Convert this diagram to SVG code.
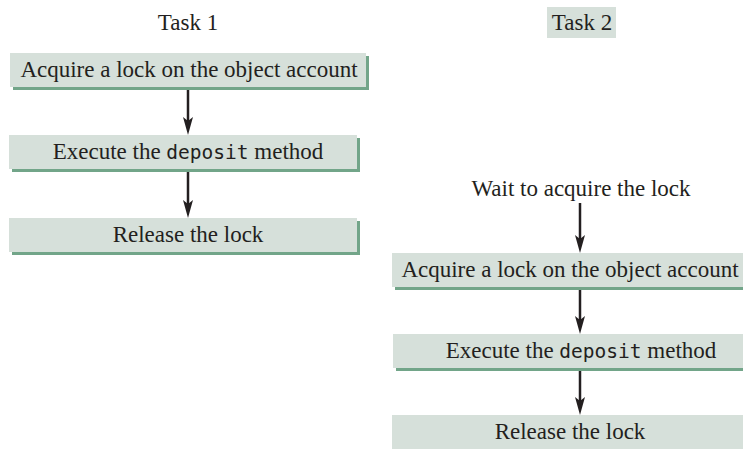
<svg xmlns="http://www.w3.org/2000/svg" width="743" height="449" viewBox="0 0 743 449">
<style>
.box{fill:#d6e0da}
.sh{fill:#72a589}
.t{font-family:"Liberation Serif","Times New Roman",serif;font-size:23px;fill:#231f20;text-anchor:middle}
.m{font-family:"DejaVu Sans Mono","Liberation Mono",monospace;font-size:19.5px}
.c{stroke:#231f20;stroke-width:2.5;fill:none;marker-end:url(#ah)}
</style>
<defs>
<marker id="ah" markerUnits="userSpaceOnUse" viewBox="0 0 18 10" refX="4" refY="5" markerWidth="18" markerHeight="10" orient="auto">
<path d="M0,0 L18,5 L0,10 L4,5 z" fill="#231f20"/>
</marker>
</defs>
<rect width="743" height="449" fill="#ffffff"/>
<g id="task1-label"><text class="t" x="188" y="30">Task 1</text></g>
<g id="task2-label"><rect class="box" x="547" y="7" width="69" height="31"/><text class="t" x="582" y="30">Task 2</text></g>
<g id="t1-acquire"><rect class="sh" x="13" y="56" width="356" height="34"/><rect class="box" x="10" y="53" width="356" height="34"/><text class="t" x="189" y="77">Acquire a lock on the object account</text></g>
<g id="t1-execute"><rect class="sh" x="12" y="138" width="348" height="34"/><rect class="box" x="9" y="135" width="348" height="34"/><text class="t" x="188" y="159">Execute the <tspan class="m">deposit</tspan> method</text></g>
<g id="t1-release"><rect class="sh" x="12" y="221" width="348" height="34"/><rect class="box" x="9" y="218" width="348" height="34"/><text class="t" x="188" y="242">Release the lock</text></g>
<g id="t2-wait"><text class="t" x="581" y="196">Wait to acquire the lock</text></g>
<g id="t2-acquire"><rect class="sh" x="395" y="256" width="370" height="34"/><rect class="box" x="392" y="253" width="370" height="34"/><text class="t" x="570" y="277">Acquire a lock on the object account</text></g>
<g id="t2-execute"><rect class="sh" x="396" y="337" width="370" height="34"/><rect class="box" x="393" y="334" width="370" height="34"/><text class="t" x="581" y="358">Execute the <tspan class="m">deposit</tspan> method</text></g>
<g id="t2-release"><rect class="sh" x="395" y="418" width="370" height="34"/><rect class="box" x="392" y="415" width="370" height="34"/><text class="t" x="570" y="439">Release the lock</text></g>
<g id="connectors">
<line class="c" x1="188" y1="90" x2="188" y2="121"/>
<line class="c" x1="188" y1="172" x2="188" y2="204"/>
<line class="c" x1="580" y1="203" x2="580" y2="239"/>
<line class="c" x1="580" y1="290" x2="580" y2="320"/>
<line class="c" x1="580" y1="371" x2="580" y2="401"/>
</g>
</svg>
